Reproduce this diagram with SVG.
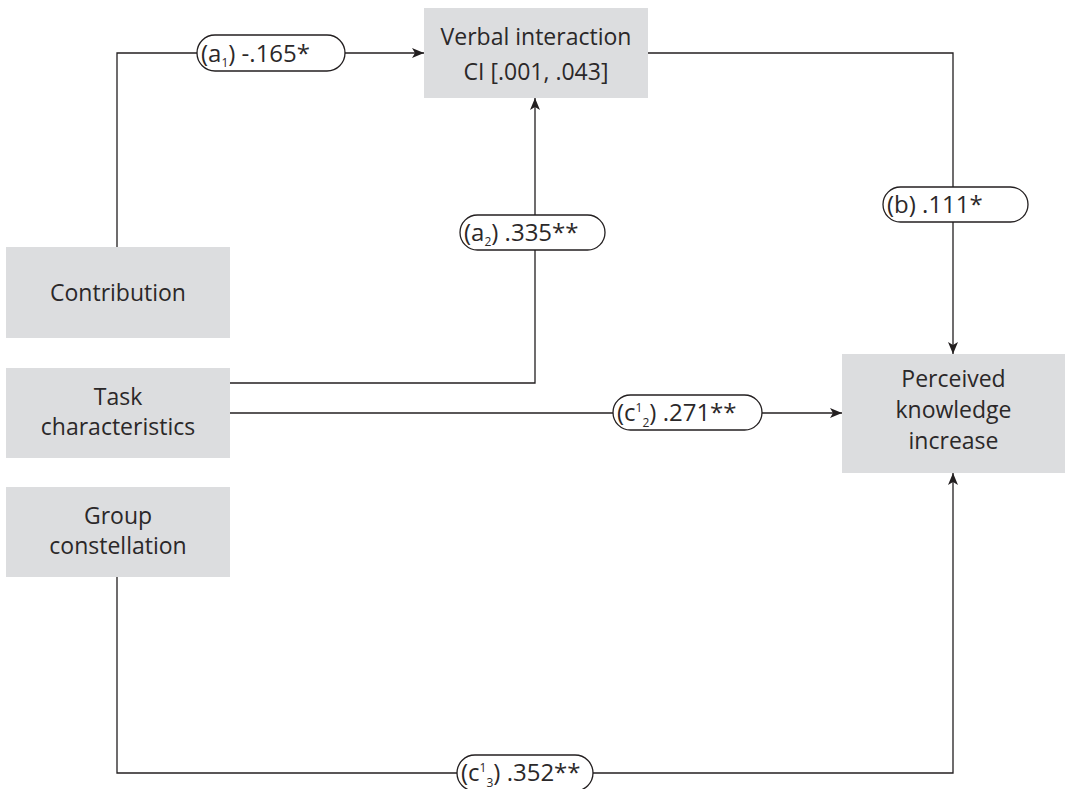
<svg xmlns="http://www.w3.org/2000/svg" width="1065" height="789" viewBox="0 0 1065 789">
<style>
.box{fill:#dcdddf;stroke:none}
.t{font-family:"Open Sans","Liberation Sans",sans-serif;font-size:23px;fill:#2b2829}
.p{font-size:24px}
.c{text-anchor:middle}
.pill{fill:#fff;stroke:#231f20;stroke-width:1.3}
.ln{fill:none;stroke:#231f20;stroke-width:1.3}
.sub{font-size:12px}
</style>
<defs>
<marker id="ah" viewBox="0 0 12 10" refX="12" refY="5" markerWidth="12" markerHeight="10" markerUnits="userSpaceOnUse" orient="auto">
<path d="M0,0 L12,5 L0,10 L3,5 Z" fill="#231f20"/>
</marker>
</defs>
<rect width="1065" height="789" fill="#fff"/>
<g id="connectors">
<path class="ln" d="M117,247 V53 H424" marker-end="url(#ah)"/>
<path class="ln" d="M230,383 H535 V98" marker-end="url(#ah)"/>
<path class="ln" d="M230,413 H842" marker-end="url(#ah)"/>
<path class="ln" d="M648,53 H953 V354" marker-end="url(#ah)"/>
<path class="ln" d="M117,577 V773 H953 V473" marker-end="url(#ah)"/>
</g>
<g id="verbal">
<rect class="box" x="424" y="8" width="224" height="90"/>
<text class="t c" x="536" y="45">Verbal interaction</text>
<text class="t c" x="536" y="80">CI [.001, .043]</text>
</g>
<g id="contribution">
<rect class="box" x="6" y="247" width="224" height="91"/>
<text class="t c" x="118" y="301">Contribution</text>
</g>
<g id="task">
<rect class="box" x="6" y="368" width="224" height="90"/>
<text class="t c" x="118" y="405">Task</text>
<text class="t c" x="118" y="435">characteristics</text>
</g>
<g id="group">
<rect class="box" x="6" y="487" width="224" height="90"/>
<text class="t c" x="118" y="524">Group</text>
<text class="t c" x="118" y="554">constellation</text>
</g>
<g id="perceived">
<rect class="box" x="842" y="354" width="223" height="119"/>
<text class="t c" x="953.5" y="387">Perceived</text>
<text class="t c" x="953.5" y="418">knowledge</text>
<text class="t c" x="953.5" y="449">increase</text>
</g>
<g id="label-a1">
<rect class="pill" x="197" y="35" width="148" height="36" rx="18"/>
<text class="t p" x="201" y="62">(a<tspan class="sub" dy="5">1</tspan><tspan dy="-5">) -.165*</tspan></text>
</g>
<g id="label-a2">
<rect class="pill" x="460" y="215" width="145" height="35" rx="17.5"/>
<text class="t p" x="464" y="241">(a<tspan class="sub" dy="5">2</tspan><tspan dy="-5">) .335**</tspan></text>
</g>
<g id="label-b">
<rect class="pill" x="883" y="187" width="145" height="35" rx="17.5"/>
<text class="t p" x="887" y="213">(b) .111*</text>
</g>
<g id="label-c2">
<rect class="pill" x="613" y="395" width="149" height="35" rx="17.5"/>
<text class="t p" x="617" y="421">(c<tspan class="sub" dy="-9">1</tspan><tspan class="sub" dy="15">2</tspan><tspan dy="-6">) .271**</tspan></text>
</g>
<g id="label-c3">
<rect class="pill" x="457" y="755" width="136" height="36" rx="18"/>
<text class="t p" x="461" y="781">(c<tspan class="sub" dy="-9">1</tspan><tspan class="sub" dy="15">3</tspan><tspan dy="-6">) .352**</tspan></text>
</g>
</svg>
